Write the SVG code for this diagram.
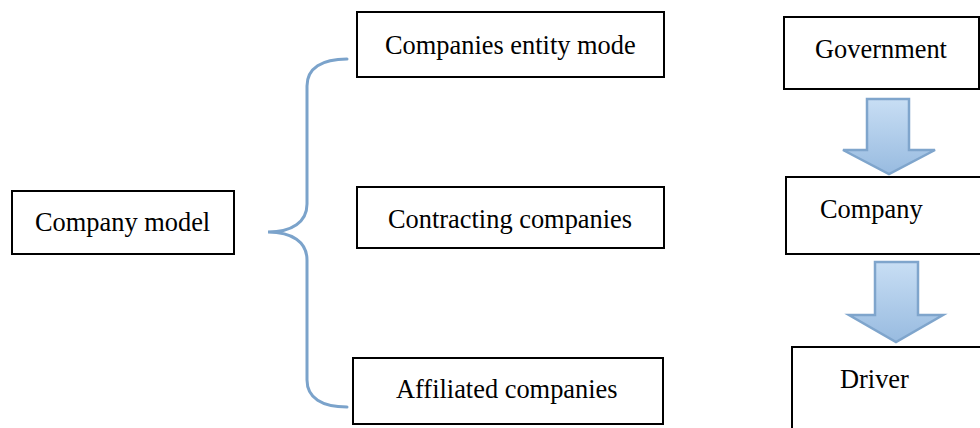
<svg xmlns="http://www.w3.org/2000/svg" width="980" height="428" viewBox="0 0 980 428">
  <style>
    .box { fill: #ffffff; stroke: #000000; stroke-width: 2; }
    .label { font-family: "Liberation Serif", "Times New Roman", serif; font-size: 26.4px; fill: #000000; }
    .brace { fill: none; stroke: #7ba3cb; stroke-width: 3; stroke-linecap: round; }
    .flow { fill: url(#flowFill); stroke: #7fa5cc; stroke-width: 2.5; stroke-linejoin: miter; }
  </style>
  <defs>
    <linearGradient id="flowFill" x1="0" y1="0" x2="0" y2="1">
      <stop offset="0" stop-color="#c8def4"/>
      <stop offset="1" stop-color="#98bbe0"/>
    </linearGradient>
  </defs>

  <rect width="980" height="428" fill="#ffffff"/>

  <!-- left side: model and its three kinds -->
  <g id="company-model">
    <rect class="box" x="12" y="191" width="222" height="63"/>
    <text class="label" x="35" y="231">Company model</text>
  </g>
  <g id="companies-entity-mode">
    <rect class="box" x="357" y="12" width="307" height="65"/>
    <text class="label" x="385" y="54">Companies entity mode</text>
  </g>
  <g id="contracting-companies">
    <rect class="box" x="357" y="187" width="307" height="61"/>
    <text class="label" x="388" y="228">Contracting companies</text>
  </g>
  <g id="affiliated-companies">
    <rect class="box" x="353" y="358" width="310" height="66"/>
    <text class="label" x="396" y="398">Affiliated companies</text>
  </g>

  <!-- right side: chain of authority -->
  <g id="government">
    <rect class="box" x="784" y="17" width="195" height="72"/>
    <text class="label" x="815" y="58">Government</text>
  </g>
  <g id="company">
    <rect class="box" x="786" y="177" width="204" height="77"/>
    <text class="label" x="820" y="218">Company</text>
  </g>
  <g id="driver">
    <rect class="box" x="792" y="347" width="200" height="100"/>
    <text class="label" x="840" y="388">Driver</text>
  </g>

  <g id="connectors">
    <path class="brace" d="M347,59 C322,59 307,68 307,86 L307,204 C307,222 292,232 268,232 C292,232 307,242 307,260 L307,380 C307,398 322,407 347,407"/>
    <polygon class="flow" points="867,99 909,99 909,150 935,150 889,174 843,150 867,150"/>
    <polygon class="flow" points="875,262 918,262 918,315 943,315 896,342 849,315 875,315"/>
  </g>
</svg>
